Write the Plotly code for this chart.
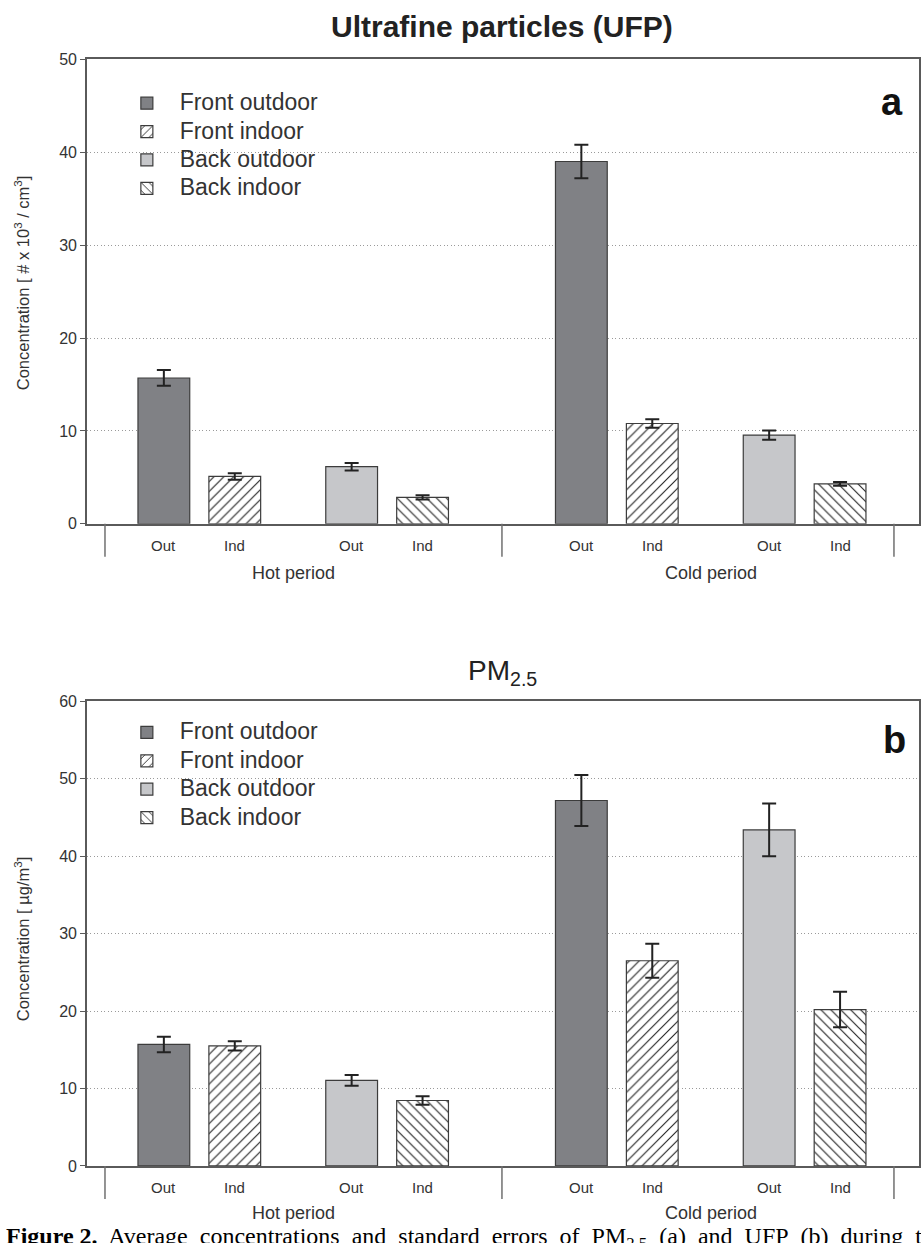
import plotly.graph_objects as go

# ---- data -------------------------------------------------------------
periods = ["Hot period", "Cold period"]
series = ["Front outdoor", "Front indoor", "Back outdoor", "Back indoor"]
short_labels = ["Out", "Ind", "Out", "Ind"]

# UFP concentration [# x 10^3 / cm^3]: [hot, cold]
ufp_mean = {
    "Front outdoor": [15.7, 39.0],
    "Front indoor": [5.1, 10.8],
    "Back outdoor": [6.15, 9.55],
    "Back indoor": [2.85, 4.3],
}
ufp_err = {
    "Front outdoor": [0.85, 1.8],
    "Front indoor": [0.35, 0.45],
    "Back outdoor": [0.4, 0.5],
    "Back indoor": [0.22, 0.2],
}

# PM2.5 concentration [ug/m^3]: [hot, cold]
pm_mean = {
    "Front outdoor": [15.7, 47.2],
    "Front indoor": [15.5, 26.5],
    "Back outdoor": [11.05, 43.4],
    "Back indoor": [8.45, 20.2],
}
pm_err = {
    "Front outdoor": [1.0, 3.3],
    "Front indoor": [0.6, 2.2],
    "Back outdoor": [0.7, 3.4],
    "Back indoor": [0.55, 2.3],
}

# ---- styling ----------------------------------------------------------
group_start = [0.0, 5.887]
series_offset = [0.0, 1.0, 2.648, 3.648]
bar_width = 0.73

styles = {
    "Front outdoor": dict(color="#808185"),
    "Front indoor": dict(color="white",
                         pattern=dict(shape="/", fgcolor="#222222", bgcolor="white",
                                      size=7, solidity=0.16, fillmode="replace")),
    "Back outdoor": dict(color="#c6c7ca"),
    "Back indoor": dict(color="white",
                        pattern=dict(shape="\\", fgcolor="#222222", bgcolor="white",
                                     size=7, solidity=0.16, fillmode="replace")),
}

AX = "#5a5a5a"
TXT = "#333333"
FONT = "Liberation Sans, Arial, sans-serif"
NBSP = "\u00a0"

fig = go.Figure()


def legend_label(text):
    return f'<span style="font-size:23px">{NBSP * 2}{text}</span>'


def add_panel(means, errs, xa, ya, legend_name, tag):
    for s_i, s in enumerate(series):
        xs = [group_start[g] + series_offset[s_i] for g in range(len(periods))]
        marker = dict(line=dict(color="#3c3c3c", width=1.2))
        marker.update(styles[s])
        fig.add_trace(go.Bar(
            x=xs, y=means[s], width=bar_width, name=legend_label(s),
            marker=marker,
            error_y=dict(type="data", array=errs[s], visible=True,
                         color="#222222", thickness=2, width=7),
            xaxis=xa, yaxis=ya, legend=legend_name,
            legendgroup=f"{tag}-{s}", showlegend=True,
            hovertemplate=f"{s}: %{{y}}<extra></extra>",
        ))


add_panel(ufp_mean, ufp_err, "x", "y", "legend", "a")
add_panel(pm_mean, pm_err, "x2", "y2", "legend2", "b")

x_range = [-1.085, 10.648]
x_dom = [87 / 921, 920 / 921]
H = 1243
top_dom = [1 - 523 / H, 1 - 52 / H]
bot_dom = [1 - 1174 / H, 1 - 703 / H]

common_x = dict(range=x_range, showticklabels=False, ticks="", showgrid=False,
                zeroline=False, showline=True, linecolor=AX, linewidth=1.5,
                mirror=True, fixedrange=True)
common_y = dict(ticks="outside", ticklen=5, tickcolor=AX, tickwidth=1.2,
                showline=True, linecolor=AX, linewidth=1.5, mirror=True,
                showgrid=True, gridcolor="#9a9a9a", griddash="1px,2.5px",
                gridwidth=1, zeroline=False, dtick=10,
                tickfont=dict(size=16, color=TXT, family=FONT))

fig.update_layout(
    xaxis=dict(domain=x_dom, anchor="y", **common_x),
    yaxis=dict(domain=top_dom, anchor="x", range=[0, 50], **common_y),
    xaxis2=dict(domain=x_dom, anchor="y2", **common_x),
    yaxis2=dict(domain=bot_dom, anchor="x2", range=[0, 60], **common_y),
)

# category labels, period labels and period dividers below each panel
annotations = []
shapes = []
for xa, ya, period_y in [("x", "y", -0.106), ("x2", "y2", -0.102)]:
    for g, period in enumerate(periods):
        for s_i, lab in enumerate(short_labels):
            annotations.append(dict(
                x=group_start[g] + series_offset[s_i], y=-0.046,
                xref=xa, yref=f"{ya} domain", text=lab, showarrow=False,
                font=dict(size=15, color=TXT, family=FONT), yanchor="middle"))
        centre = group_start[g] + (series_offset[0] + series_offset[-1]) / 2
        annotations.append(dict(
            x=centre, y=period_y, xref=xa, yref=f"{ya} domain", text=period,
            showarrow=False, font=dict(size=18, color=TXT, family=FONT),
            yanchor="middle"))
    first = group_start[0] + series_offset[0] - 0.83
    mid = (group_start[0] + series_offset[-1] + group_start[1]) / 2
    last = group_start[1] + series_offset[-1] + 0.76
    for xv in (first, mid, last):
        shapes.append(dict(type="line", xref=xa, yref=f"{ya} domain",
                           x0=xv, x1=xv, y0=0, y1=-0.071,
                           line=dict(color="#707070", width=1.5)))

# panel titles, panel letters, axis titles and caption
annotations += [
    dict(x=503 / 921, y=1 - 19 / H, xref="paper", yref="paper",
         xanchor="center", yanchor="middle",
         text="<b>Ultrafine particles (UFP)</b>", showarrow=False,
         font=dict(size=30, color="#222222", family=FONT)),
    dict(x=503 / 921, y=1 - 674 / H, xref="paper", yref="paper",
         xanchor="center", yanchor="middle",
         text="PM<sub>2.5</sub>", showarrow=False,
         font=dict(size=28, color="#222222", family=FONT)),
    dict(x=893 / 921, y=1 - 95 / H, xref="paper", yref="paper",
         xanchor="center", yanchor="middle", text="<b>a</b>", showarrow=False,
         font=dict(size=38, color="#111111", family=FONT)),
    dict(x=895 / 921, y=1 - 742 / H, xref="paper", yref="paper",
         xanchor="center", yanchor="middle", text="<b>b</b>", showarrow=False,
         font=dict(size=38, color="#111111", family=FONT)),
    dict(x=22 / 921, y=0.52, xref="paper", yref="y domain",
         xanchor="center", yanchor="middle",
         text="Concentration [ # x 10<sup>3</sup> / cm<sup>3</sup>]",
         textangle=-90, showarrow=False,
         font=dict(size=16.5, color=TXT, family=FONT)),
    dict(x=22 / 921, y=0.49, xref="paper", yref="y2 domain",
         xanchor="center", yanchor="middle",
         text="Concentration [ µg/m<sup>3</sup>]",
         textangle=-90, showarrow=False,
         font=dict(size=16.5, color=TXT, family=FONT)),
    dict(x=4 / 921, y=1 - 1230 / H, xref="paper", yref="paper",
         xanchor="left", yanchor="top", align="left",
         text=f"<b>Figure 2.</b>{NBSP} Average{NBSP} concentrations{NBSP} and{NBSP} "
              f"standard{NBSP} errors{NBSP} of{NBSP} PM<sub>2.5</sub>{NBSP} (a){NBSP} "
              f"and{NBSP} UFP{NBSP} (b){NBSP} during{NBSP} the{NBSP} t",
         showarrow=False,
         font=dict(size=24, color="#000000",
                   family="Liberation Serif, Times New Roman, serif")),
]

legend_style = dict(bgcolor="rgba(0,0,0,0)", borderwidth=0,
                    font=dict(size=18, color=TXT, family=FONT),
                    xanchor="left", yanchor="top", traceorder="grouped",
                    tracegroupgap=2, itemclick=False, itemdoubleclick=False)

fig.update_layout(
    width=921, height=1243,
    margin=dict(l=0, r=0, t=0, b=0),
    paper_bgcolor="white", plot_bgcolor="white",
    barmode="overlay",
    showlegend=True,
    legend=dict(x=127 / 921, y=1 - 78 / H, **legend_style),
    legend2=dict(x=127 / 921, y=1 - 716 / H, **legend_style),
    annotations=annotations,
    shapes=shapes,
    font=dict(family=FONT, color=TXT),
)

fig.write_html("out.html")
